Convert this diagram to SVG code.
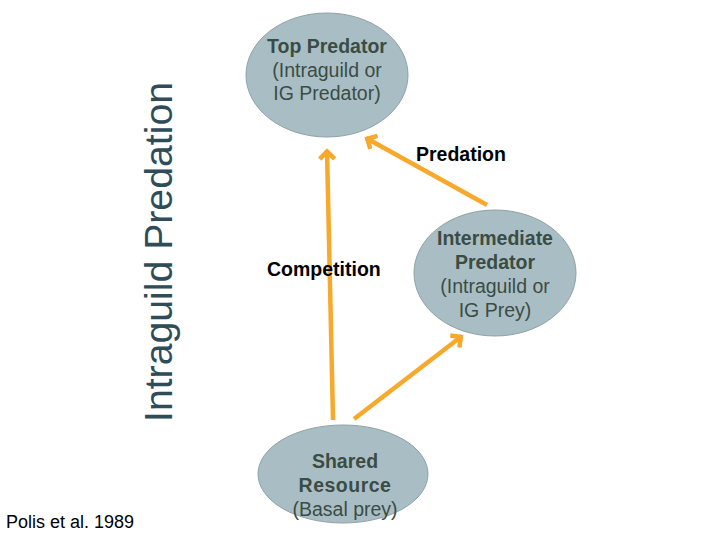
<svg xmlns="http://www.w3.org/2000/svg" width="720" height="540" viewBox="0 0 720 540">
<style>
.node ellipse{fill:#a9bec4;stroke:#8ea2a7;stroke-width:1}
.nt{font-family:"Liberation Sans",Arial,sans-serif;font-size:19.5px;fill:#3b4c45;text-anchor:middle}
.b{font-weight:bold}
.lbl{font-family:"Liberation Sans",Arial,sans-serif;font-size:19.5px;font-weight:bold;fill:#000}
.edge{stroke:#f8a92c;stroke-width:4.5;fill:none;marker-end:url(#ah)}
</style>
<defs>
<marker id="ah" markerUnits="userSpaceOnUse" viewBox="-16 -12 20 24" markerWidth="20" markerHeight="24" refX="0" refY="0" orient="auto">
<path d="M-9,-7.5 L-1.5,0 L-9,7.5" fill="none" stroke="#f8a92c" stroke-width="4.5" stroke-linejoin="miter"/>
</marker>
</defs>
<rect width="720" height="540" fill="#fff"/>
<text transform="translate(172,422) rotate(-90)" font-family="'Liberation Sans',Arial,sans-serif" font-size="39" fill="#2e4d58" textLength="340" lengthAdjust="spacingAndGlyphs">Intraguild Predation</text>
<text x="6" y="528" font-family="'Liberation Sans',Arial,sans-serif" font-size="18" fill="#000">Polis et al. 1989</text>
<g id="connectors">
<line class="edge" x1="333" y1="420" x2="327" y2="150"/>
<line class="edge" x1="487" y1="205" x2="366" y2="138"/>
<line class="edge" x1="354" y1="419" x2="462" y2="336"/>
</g>
<g id="top-predator" class="node">
<ellipse cx="327" cy="75" rx="81" ry="62"/>
<text class="nt b" x="327" y="53">Top Predator</text>
<text class="nt" x="327" y="77">(Intraguild or</text>
<text class="nt" x="327" y="100">IG Predator)</text>
</g>
<g id="intermediate-predator" class="node">
<ellipse cx="495" cy="273" rx="81" ry="63"/>
<text class="nt b" x="495" y="245">Intermediate</text>
<text class="nt b" x="495" y="269">Predator</text>
<text class="nt" x="495" y="293">(Intraguild or</text>
<text class="nt" x="495" y="317">IG Prey)</text>
</g>
<g id="shared-resource" class="node">
<ellipse cx="343" cy="474" rx="85" ry="49"/>
<text class="nt b" x="345" y="468">Shared</text>
<text class="nt b" x="345" y="492" letter-spacing="0.5">Resource</text>
<text class="nt" x="345" y="516">(Basal prey)</text>
</g>
<text class="lbl" x="416" y="161">Predation</text>
<text class="lbl" x="267" y="276">Competition</text>
</svg>
